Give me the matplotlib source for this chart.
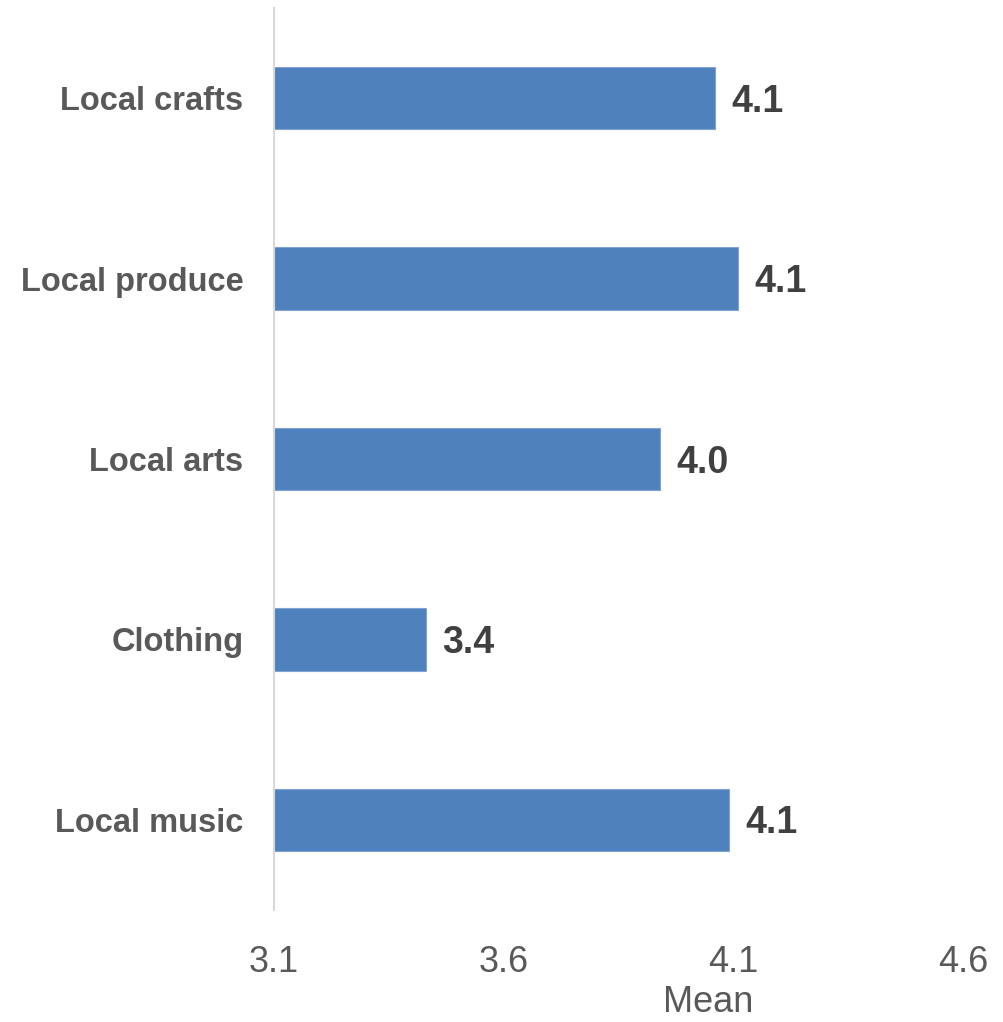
import matplotlib.pyplot as plt

# Data (top to bottom as shown)
categories = ['Local crafts', 'Local produce', 'Local arts', 'Clothing', 'Local music']
means = [4.07, 4.12, 3.95, 3.44, 4.10]
x_ticks = [3.11, 3.61, 4.11, 4.61]

bar_color = '#4F81BD'
grey = '#595959'

fig = plt.figure(figsize=(10.04, 10.22), dpi=100)
ax = fig.add_axes([0.2729, 0.1096, 0.6863, 0.8826])

ypos = list(range(len(categories)))
ax.barh(ypos, [m - x_ticks[0] for m in means], left=x_ticks[0], height=0.345,
        color=bar_color, edgecolor='#7FA3D4', linewidth=0.8)

# value labels
for y, m in zip(ypos, means):
    ax.text(m + 0.036, y + 0.02, '%.1f' % m, va='center', ha='left',
            fontsize=27, fontweight='bold', color='#404040',
            family='Liberation Sans')

ax.set_xlim(x_ticks[0], x_ticks[-1])
ax.set_ylim(len(categories) - 0.5, -0.5)
ax.set_xticks(x_ticks)
ax.set_xticklabels(['%.1f' % t for t in x_ticks], fontsize=26, color=grey,
                   family='Liberation Sans')
ax.set_yticks(ypos)
ax.set_yticklabels(categories, fontsize=23.5, fontweight='bold', color=grey,
                   family='Liberation Sans')
ax.tick_params(axis='both', length=0)
ax.tick_params(axis='x', pad=25)
ax.tick_params(axis='y', pad=22)

for s in ['top', 'right', 'bottom']:
    ax.spines[s].set_visible(False)
ax.spines['left'].set_color('#D9D9D9')
ax.spines['left'].set_linewidth(1.5)

ax.set_xlabel('Mean', fontsize=26, color=grey, family='Liberation Sans')
ax.xaxis.set_label_coords(0.63, -0.083)

fig.savefig('out.png', dpi=100)
